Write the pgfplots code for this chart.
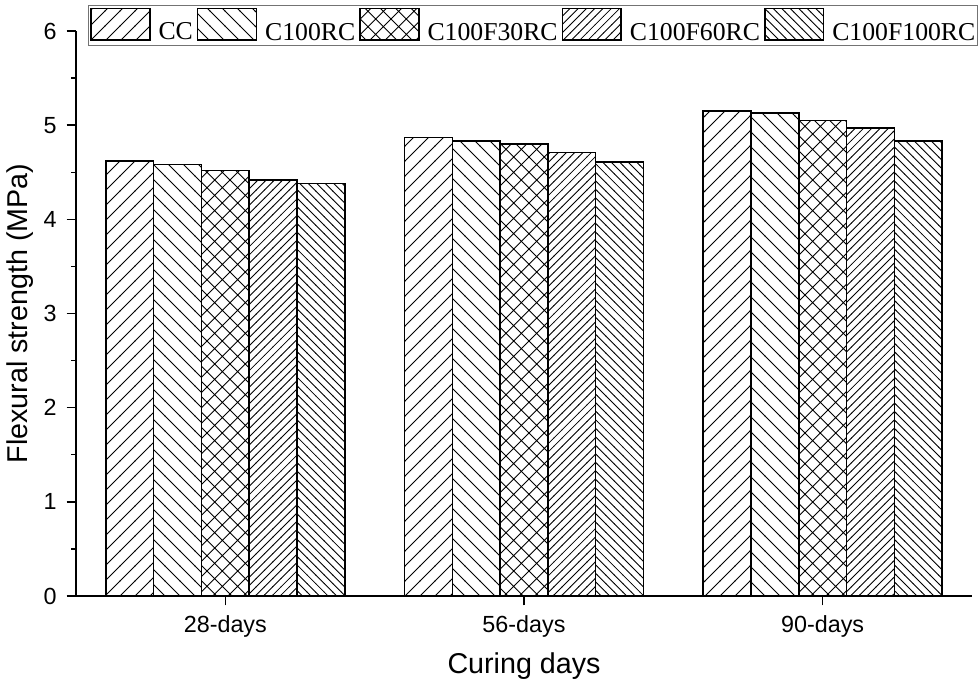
\documentclass[border=0pt]{standalone}
\usepackage{fontspec}
\setmainfont{Liberation Sans}
\newfontfamily\timesf{Liberation Serif}
\usepackage{pgfplots}
\pgfplotsset{compat=1.18}
\usetikzlibrary{patterns}

% hatch patterns
\pgfdeclarepatternformonly{neA}{\pgfqpoint{-1pt}{-1pt}}{\pgfqpoint{12.25pt}{12.25pt}}{\pgfqpoint{11.25pt}{11.25pt}}{%
  \pgfsetlinewidth{0.65pt}%
  \pgfpathmoveto{\pgfqpoint{-0.2pt}{-0.2pt}}\pgfpathlineto{\pgfqpoint{11.45pt}{11.45pt}}\pgfusepath{stroke}}
\pgfdeclarepatternformonly{nwA}{\pgfqpoint{-1pt}{-1pt}}{\pgfqpoint{12.25pt}{12.25pt}}{\pgfqpoint{11.25pt}{11.25pt}}{%
  \pgfsetlinewidth{0.65pt}%
  \pgfpathmoveto{\pgfqpoint{-0.2pt}{11.45pt}}\pgfpathlineto{\pgfqpoint{11.45pt}{-0.2pt}}\pgfusepath{stroke}}
\pgfdeclarepatternformonly{xA}{\pgfqpoint{-1pt}{-1pt}}{\pgfqpoint{12.5pt}{12.5pt}}{\pgfqpoint{11.5pt}{11.5pt}}{%
  \pgfsetlinewidth{0.65pt}%
  \pgfpathmoveto{\pgfqpoint{-0.2pt}{-0.2pt}}\pgfpathlineto{\pgfqpoint{11.7pt}{11.7pt}}%
  \pgfpathmoveto{\pgfqpoint{-0.2pt}{11.7pt}}\pgfpathlineto{\pgfqpoint{11.7pt}{-0.2pt}}\pgfusepath{stroke}}
\pgfdeclarepatternformonly{neB}{\pgfqpoint{-1pt}{-1pt}}{\pgfqpoint{7.2pt}{7.2pt}}{\pgfqpoint{6.2pt}{6.2pt}}{%
  \pgfsetlinewidth{0.65pt}%
  \pgfpathmoveto{\pgfqpoint{-0.2pt}{-0.2pt}}\pgfpathlineto{\pgfqpoint{6.4pt}{6.4pt}}\pgfusepath{stroke}}
\pgfdeclarepatternformonly{nwB}{\pgfqpoint{-1pt}{-1pt}}{\pgfqpoint{7.4pt}{7.4pt}}{\pgfqpoint{6.4pt}{6.4pt}}{%
  \pgfsetlinewidth{0.65pt}%
  \pgfpathmoveto{\pgfqpoint{-0.2pt}{6.6pt}}\pgfpathlineto{\pgfqpoint{6.6pt}{-0.2pt}}\pgfusepath{stroke}}

\pgfplotstableread{
x   CC    RC    F30   F60   F100
0   4.62  4.58  4.52  4.42  4.38
1   4.87  4.83  4.80  4.71  4.61
2   5.15  5.13  5.05  4.97  4.83
}\datatable

\begin{document}
\begin{tikzpicture}
\begin{axis}[
  scale only axis,
  width=672pt, height=423.75pt,
  ybar=0pt, bar width=0.16,
  xmin=-0.5, xmax=2.5, ymin=0, ymax=6,
  axis x line*=bottom, axis y line*=left,
  axis line style={line width=1.1pt,-},
  tick style={line width=1.1pt, black},
  tick align=outside,
  major tick length=7pt, minor tick length=3.5pt,
  xtick={0,1,2}, xticklabels={28-days,56-days,90-days},
  ytick={0,1,2,3,4,5,6},
  minor y tick num=1,
  /pgf/number format/assume math mode=true,
  tick label style={font=\fontsize{17.5}{20}\selectfont},
  yticklabel style={xshift=-4pt},
  xticklabel style={yshift=-4.5pt},
  xlabel={Curing days}, ylabel={Flexural strength (MPa)},
  label style={font=\fontsize{21.5}{24}\selectfont},
  xlabel style={at={(axis description cs:0.5,-0.124)}, anchor=center},
  ylabel style={at={(axis description cs:-0.0625,0.5)}, anchor=center},
  legend columns=5,
  legend style={at={(1.0067,1.046)}, anchor=north east, draw=black!55, line width=1pt,
    font=\timesf\fontsize{19.3}{22}\selectfont, inner xsep=1.5pt, inner ysep=1.5pt,
    nodes={inner xsep=0pt, inner ysep=1pt},
    /tikz/every odd column/.append style={column sep=6pt},
    /tikz/every even column/.append style={column sep=3pt}},
  legend image code/.code={\draw[#1, line width=1.2pt] (0pt,-5.5pt) rectangle (44pt,18pt);},
  clip=false,
]
\coordinate (bl) at (rel axis cs:0,0);
\addplot[draw=black, line width=1.1pt, pattern=neA] table[x=x,y=CC] {\datatable};
\addplot[draw=black, line width=1.1pt, pattern=nwA] table[x=x,y=RC] {\datatable};
\addplot[draw=black, line width=1.1pt, pattern=xA] table[x=x,y=F30] {\datatable};
\addplot[draw=black, line width=1.1pt, pattern=neB] table[x=x,y=F60] {\datatable};
\addplot[draw=black, line width=1.1pt, pattern=nwB] table[x=x,y=F100] {\datatable};
\legend{CC,C100RC,C100F30RC,C100F60RC,C100F100RC}
\end{axis}
\pgfresetboundingbox
\path ([shift={(-57pt,-67.5pt)}]bl) rectangle ([shift={(677.25pt,447pt)}]bl);
\end{tikzpicture}
\end{document}
